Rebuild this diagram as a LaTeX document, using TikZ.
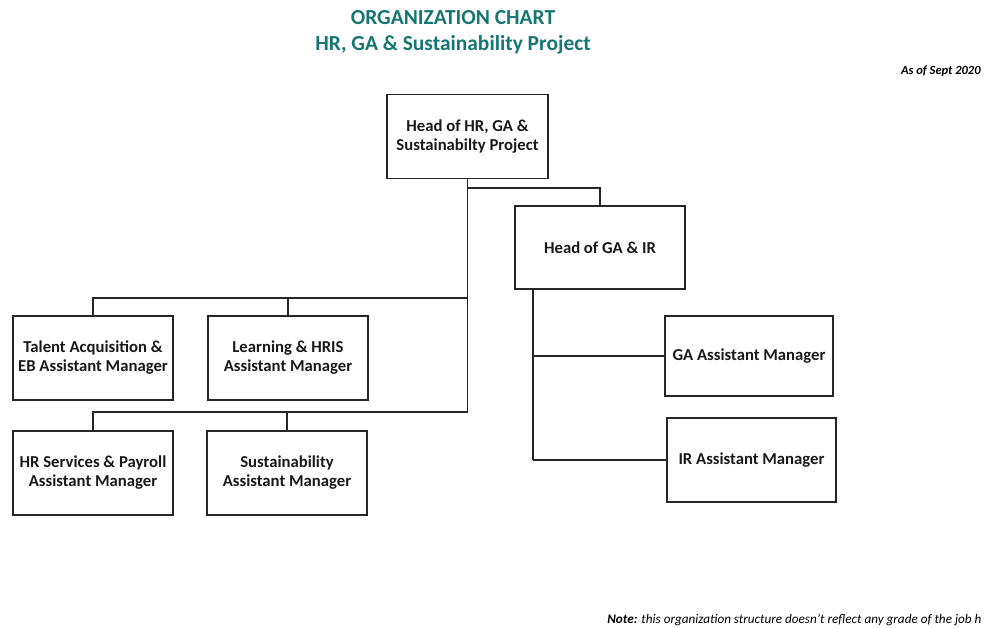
\documentclass[tikz,border=0pt]{standalone}
\usepackage{fontspec}
\setmainfont{Carlito}
\definecolor{titreteal}{RGB}{22,118,114}
\begin{document}
\begin{tikzpicture}[x=0.02cm, y=-0.02cm]
\tikzstyle{poste}=[rectangle,draw=black!85,line width=0.9pt,fill=white,align=center,inner sep=2pt,font=\bfseries\fontsize{9.5}{10.8}\selectfont,text=black!90]
\tikzstyle{lien}=[draw=black!85,line width=0.7pt]
\useasboundingbox (0,0) rectangle (985,627);
% titre et date
\node[text=titreteal,font=\bfseries\fontsize{12.2}{14}\selectfont](t1) at (453,18) {ORGANIZATION CHART};
\node[text=titreteal,font=\bfseries\fontsize{12.2}{14}\selectfont](t2) at (453,45) {HR, GA \& Sustainability Project};
\node[anchor=east,font=\bfseries\itshape\fontsize{7.1}{8}\selectfont,inner sep=0pt](date) at (981,71) {As of Sept 2020};
% postes
\node[poste,minimum width=3.22cm,minimum height=1.68cm](head) at (467.5,136.5) {Head of HR, GA \&\\Sustainabilty Project};
\node[poste,minimum width=3.40cm,minimum height=1.66cm](gair) at (600,247.5) {Head of GA \& IR};
\node[poste,minimum width=3.20cm,minimum height=1.68cm](talent) at (93,358) {Talent Acquisition \&\\EB Assistant Manager};
\node[poste,minimum width=3.20cm,minimum height=1.68cm](learn) at (288,358) {Learning \& HRIS\\Assistant Manager};
\node[poste,minimum width=3.20cm,minimum height=1.68cm](hrs) at (93,473) {HR Services \& Payroll\\Assistant Manager};
\node[poste,minimum width=3.20cm,minimum height=1.68cm](sust) at (287,473) {Sustainability\\Assistant Manager};
\node[poste,minimum width=3.36cm,minimum height=1.60cm](gaam) at (749,356) {GA Assistant Manager};
\node[poste,minimum width=3.38cm,minimum height=1.68cm](iram) at (751.5,460) {IR Assistant Manager};
% liaisons
\coordinate (b0) at (467.5,188);
\coordinate (j1) at (467.5,298);
\coordinate (j2) at (467.5,412);
\coordinate (g1) at (533,460);
\draw[lien,line width=1.1pt] (head.south) -- (j2);
\draw[lien] (b0) -| (gair.north);
\draw[lien] (j1) -| (talent.north);
\draw[lien] (j1) -| (learn.north);
\draw[lien] (j2) -| (hrs.north);
\draw[lien] (j2) -| (sust.north);
\draw[lien,line width=1.1pt] (gair.south -| g1) -- (g1);
\draw[lien] (gair.south -| g1) |- (gaam.west);
\draw[lien] (g1) -- (iram.west);
% note en bas
\node[anchor=west,font=\itshape\fontsize{7.5}{8.5}\selectfont,inner sep=0pt](note) at (607,620) {\textbf{Note:} this organization structure doesn't reflect any grade of the job h};
\end{tikzpicture}
\end{document}
